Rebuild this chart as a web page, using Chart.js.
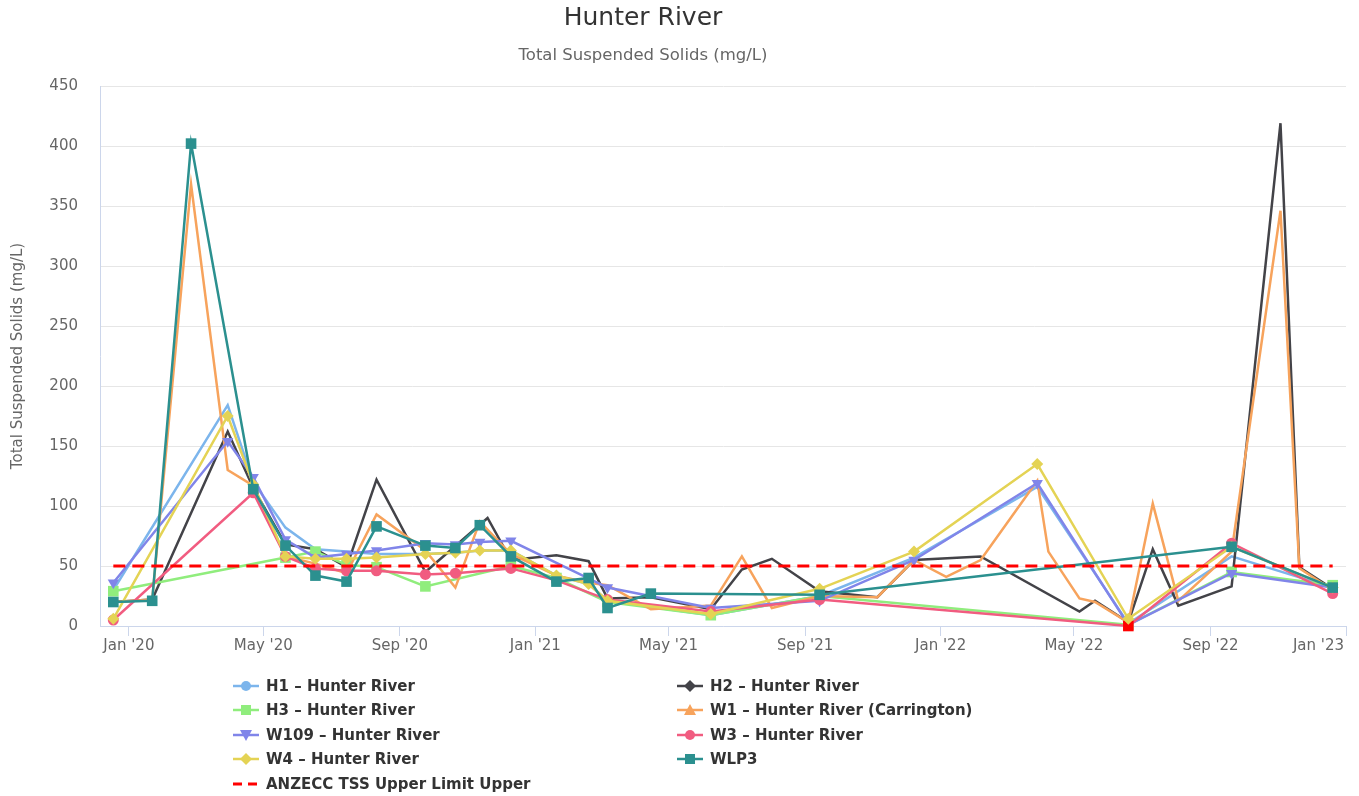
<!DOCTYPE html>
<html>
<head>
<meta charset="utf-8">
<title>Hunter River – Total Suspended Solids</title>
<script src="https://cdn.jsdelivr.net/npm/chart.js@4.4.1/dist/chart.umd.min.js"></script>
<style>
  html, body { margin: 0; padding: 0; background: #ffffff; }
  #wrap { position: relative; width: 1359px; height: 796px; overflow: hidden; font-family: "DejaVu Sans", Verdana, sans-serif; }
  #chart { position: absolute; left: 0; top: 0; }
  #title { position: absolute; left: 0; width: 1286px; top: 2px; line-height: 30px; text-align: center; font-size: 25px; color: #333333; }
  #subtitle { position: absolute; left: 0; width: 1286px; top: 45px; line-height: 20px; text-align: center; font-size: 16.5px; color: #666666; }
  #legend { position: absolute; left: 0; top: 0; width: 1359px; height: 796px; pointer-events: none; }
  .item { position: absolute; height: 20px; display: flex; align-items: center; white-space: nowrap; }
  .item svg { width: 26px; height: 16px; margin-right: 7px; flex: none; }
  .item span { font-weight: bold; font-size: 15px; color: #333333; }
</style>
</head>
<body>
<div id="wrap">
  <canvas id="chart" width="1359" height="796"></canvas>
  <div id="title">Hunter River</div>
  <div id="subtitle">Total Suspended Solids (mg/L)</div>
  <div id="legend"></div>
</div>
<script>
// ---------------- DATA ----------------
const sampleDates = [
  '2019-12-18','2020-01-22','2020-02-26','2020-03-30','2020-04-22','2020-05-21','2020-06-17','2020-07-15',
  '2020-08-11','2020-09-24','2020-10-21','2020-11-12','2020-11-19','2020-12-10','2021-01-20','2021-02-18',
  '2021-03-07','2021-04-15','2021-06-08','2021-07-06','2021-08-02','2021-09-14','2021-11-05','2021-12-08',
  '2022-01-06','2022-02-06','2022-03-29','2022-04-08','2022-05-06','2022-05-20','2022-06-19','2022-07-11',
  '2022-08-03','2022-09-20','2022-11-03','2022-11-20','2022-12-20'
];
const n = null;
const h1Values   = [30, n, n, 184, 120, 82, 64, 62, 60, 60, 61, 63, n, 63, 42, 35, 21, n, 9, n, n, 25, n, 57, n, n, 116, n, n, n, 2, n, n, 58, n, n, 32];
const h2Values   = [20, 22, n, 162, 115, 68, 64, 49, 122, 45, n, n, 90, 55, 59, 54, 23, 24, 14, 47, 56, 29, 24, 55, n, 58, n, n, 12, 21, 3, 64, 17, 33, 419, 49, 31];
const h3Values   = [29, n, n, n, n, 57, 62, 51, 49, 33, n, n, n, 50, 40, n, 20, n, 9, n, n, 25, n, n, n, n, n, n, n, n, 1, n, n, 45, n, n, 34];
const w1Values   = [20, 22, 368, 130, 117, 58, 52, 44, 93, 63, 32, 87, n, 60, 42, 36, 34, 14, 17, 58, 15, 25, 24, 55, 41, 55, 121, 62, 23, 20, 3, 102, 21, 62, 346, 48, 30];
const w109Values = [36, n, n, 154, 124, 72, 57, 60, 63, 69, 68, 70, n, 71, n, n, 32, n, 15, n, n, 21, n, 55, n, n, 119, n, n, n, 1, n, n, 44, n, n, 32];
const w3Values   = [5, n, n, n, 111, 58, 48, 46, 46, 43, 44, n, n, 48, 38, n, 22, n, 12, n, n, 22, n, n, n, n, n, n, n, n, 0, n, n, 69, n, n, 27];
const w4Values   = [6, n, n, 175, 118, 58, 56, 56, 57, 60, 61, 63, n, 63, 42, 35, 21, n, 10, n, n, 31, n, 62, n, n, 135, n, n, n, 6, n, n, 66, n, n, 32];
const wlp3Values = [20, 21, 402, n, 114, 67, 42, 37, 83, 67, 65, 84, n, 58, 37, 40, 15, 27, n, n, n, 26, n, n, n, n, n, n, n, n, n, n, n, 66, n, n, 32];
const anzeccLimit = 50;            // ANZECC TSS upper limit (mg/L)
const limitDates = ['2019-12-18', '2022-12-20'];

const xTickDates  = ['2020-01-01','2020-05-01','2020-09-01','2021-01-01','2021-05-01','2021-09-01','2022-01-01','2022-05-01','2022-09-01','2023-01-01'];
const xTickLabels = ["Jan '20","May '20","Sep '20","Jan '21","May '21","Sep '21","Jan '22","May '22","Sep '22","Jan '23"];
const xAxisRange  = ['2019-12-06', '2023-01-01'];
const yTickValues = [0, 50, 100, 150, 200, 250, 300, 350, 400, 450];

const seriesNames = ['H1 – Hunter River','H2 – Hunter River','H3 – Hunter River','W1 – Hunter River (Carrington)',
                     'W109 – Hunter River','W3 – Hunter River','W4 – Hunter River','WLP3'];
const limitName = 'ANZECC TSS Upper Limit Upper';

// ---------------- HELPERS ----------------
const dayOf = s => { const [y, m, d] = s.split('-').map(Number); return (Date.UTC(y, m - 1, d) - Date.UTC(2020, 0, 1)) / 86400000; };
const toPoints = vals => sampleDates.map((d, i) => vals[i] === null ? null : { x: dayOf(d), y: vals[i] }).filter(Boolean);
const FONT = '"DejaVu Sans", Verdana, sans-serif';

// ---------------- STYLES ----------------
const styles = [
  { color: '#7cb5ec', marker: 'circle',   radius: 0 },
  { color: '#434348', marker: 'rectRot',  radius: 0 },
  { color: '#90ed7d', marker: 'rect',     radius: 7.5 },
  { color: '#f7a35c', marker: 'triangle', radius: 0 },
  { color: '#8085e9', marker: 'triangle', radius: 6.5, rotation: 180 },
  { color: '#f15c80', marker: 'circle',   radius: 5.5 },
  { color: '#e4d354', marker: 'rectRot',  radius: 6 },
  { color: '#2b908f', marker: 'rect',     radius: 7.5 }
];
const seriesValues = [h1Values, h2Values, h3Values, w1Values, w109Values, w3Values, w4Values, wlp3Values];
const zeroHighlight = '#ff0000';   // zero readings flagged with a red square

const datasets = seriesValues.map((vals, i) => {
  const st = styles[i];
  const isW3 = i === 5;
  return {
    label: seriesNames[i],
    data: toPoints(vals),
    borderColor: st.color,
    backgroundColor: st.color,
    borderWidth: 2.5,
    tension: 0,
    pointStyle: isW3 ? (c => (c.raw && c.raw.y <= 0) ? 'rect' : st.marker) : st.marker,
    pointRotation: st.rotation || 0,
    pointRadius: isW3 ? (c => (c.raw && c.raw.y <= 0) ? 7.5 : st.radius) : st.radius,
    pointHoverRadius: st.radius,
    pointBorderWidth: 0,
    pointBackgroundColor: isW3 ? (c => (c.raw && c.raw.y <= 0) ? zeroHighlight : st.color) : st.color,
    clip: false,
    order: seriesValues.length + 1 - i,
    legendMarker: { style: st.marker, rotation: st.rotation || 0 }
  };
});
datasets.push({
  label: limitName,
  data: limitDates.map(d => ({ x: dayOf(d), y: anzeccLimit })),
  borderColor: '#ff0000',
  backgroundColor: '#ff0000',
  borderWidth: 3,
  borderDash: [12, 7],
  pointRadius: 0,
  pointHoverRadius: 0,
  clip: false,
  order: 1,
  legendMarker: null
});

// Draw the final x label shifted inward so it stays inside the chart (as the source does).
const edgeLabelPlugin = {
  id: 'edgeLabel',
  afterDraw(chart) {
    const sc = chart.scales.x;
    const last = xTickDates.length - 1;
    const ctx = chart.ctx;
    const px = sc.getPixelForValue(dayOf(xTickDates[last]));
    ctx.save();
    ctx.font = '15px ' + FONT;
    ctx.fillStyle = '#666666';
    ctx.textAlign = 'center';
    ctx.textBaseline = 'middle';
    const w = ctx.measureText(xTickLabels[last]).width;
    const x = Math.min(px, chart.width - 15 - w / 2);
    ctx.fillText(xTickLabels[last], x, sc.top + 10 + 1 + 15 * 1.2 / 2);
    ctx.restore();
  }
};

const chart = new Chart(document.getElementById('chart'), {
  type: 'line',
  data: { datasets },
  options: {
    responsive: false,
    animation: false,
    devicePixelRatio: 1,
    layout: { padding: { top: 86, right: 13, bottom: 0, left: 0 } },
    plugins: { legend: { display: false }, title: { display: false }, tooltip: { enabled: false } },
    events: [],
    scales: {
      x: {
        type: 'linear',
        min: dayOf(xAxisRange[0]),
        max: dayOf(xAxisRange[1]),
        afterBuildTicks: sc => { sc.ticks = xTickDates.map(d => ({ value: dayOf(d) })); },
        afterFit: sc => { sc.height = 170; sc.paddingLeft = 0; sc.paddingRight = 0; },
        grid: { drawOnChartArea: false, drawTicks: true, tickLength: 10, tickColor: '#ccd6eb', tickWidth: 1 },
        border: { display: true, color: '#ccd6eb', width: 1 },
        ticks: {
          autoSkip: false, maxRotation: 0, minRotation: 0, padding: 1,
          font: { family: FONT, size: 15 },
          color: c => c.index === xTickDates.length - 1 ? 'rgba(0,0,0,0)' : '#666666',
          callback: (v, i) => xTickLabels[i]
        }
      },
      y: {
        min: 0, max: 450,
        afterBuildTicks: sc => { sc.ticks = yTickValues.map(v => ({ value: v })); },
        afterFit: sc => { sc.width = 100; sc.paddingTop = 0; sc.paddingBottom = 0; },
        grid: { color: '#e6e6e6', lineWidth: 1, drawTicks: false },
        border: { display: true, color: '#ccd6eb', width: 1 },
        ticks: {
          padding: 22,
          font: { family: FONT, size: 15 },
          color: '#666666'
        },
        title: {
          display: true,
          text: 'Total Suspended Solids (mg/L)',
          color: '#666666',
          font: { family: FONT, size: 15 },
          padding: { top: 9, bottom: 0 }
        }
      }
    }
  },
  plugins: [edgeLabelPlugin]
});

// ---------------- HTML LEGEND (built from the chart's datasets) ----------------
function markerSvg(ds) {
  const c = ds.borderColor;
  const line = ds.borderDash
    ? `<line x1="0" y1="8" x2="26" y2="8" stroke="${c}" stroke-width="3" stroke-dasharray="9,6"/>`
    : `<line x1="0" y1="8" x2="26" y2="8" stroke="${c}" stroke-width="2.5"/>`;
  let m = '';
  const lm = ds.legendMarker;
  if (lm) {
    if (lm.style === 'circle') m = `<circle cx="13" cy="8" r="5" fill="${c}"/>`;
    else if (lm.style === 'rect') m = `<rect x="8" y="3" width="10" height="10" fill="${c}"/>`;
    else if (lm.style === 'rectRot') m = `<polygon points="13,2 19,8 13,14 7,8" fill="${c}"/>`;
    else if (lm.style === 'triangle' && lm.rotation === 180) m = `<polygon points="7,3 19,3 13,14" fill="${c}"/>`;
    else if (lm.style === 'triangle') m = `<polygon points="13,2 19,13 7,13" fill="${c}"/>`;
  }
  return `<svg viewBox="0 0 26 16" xmlns="http://www.w3.org/2000/svg">${line}${m}</svg>`;
}
const legendEl = document.getElementById('legend');
const legendCols = [233, 677];
const legendTop = 676, legendRow = 24.4;
chart.data.datasets.forEach((ds, i) => {
  const el = document.createElement('div');
  el.className = 'item';
  el.style.left = legendCols[i % 2] + 'px';
  el.style.top = (legendTop + Math.floor(i / 2) * legendRow) + 'px';
  el.innerHTML = markerSvg(ds) + `<span>${ds.label}</span>`;
  legendEl.appendChild(el);
});
</script>
</body>
</html>
